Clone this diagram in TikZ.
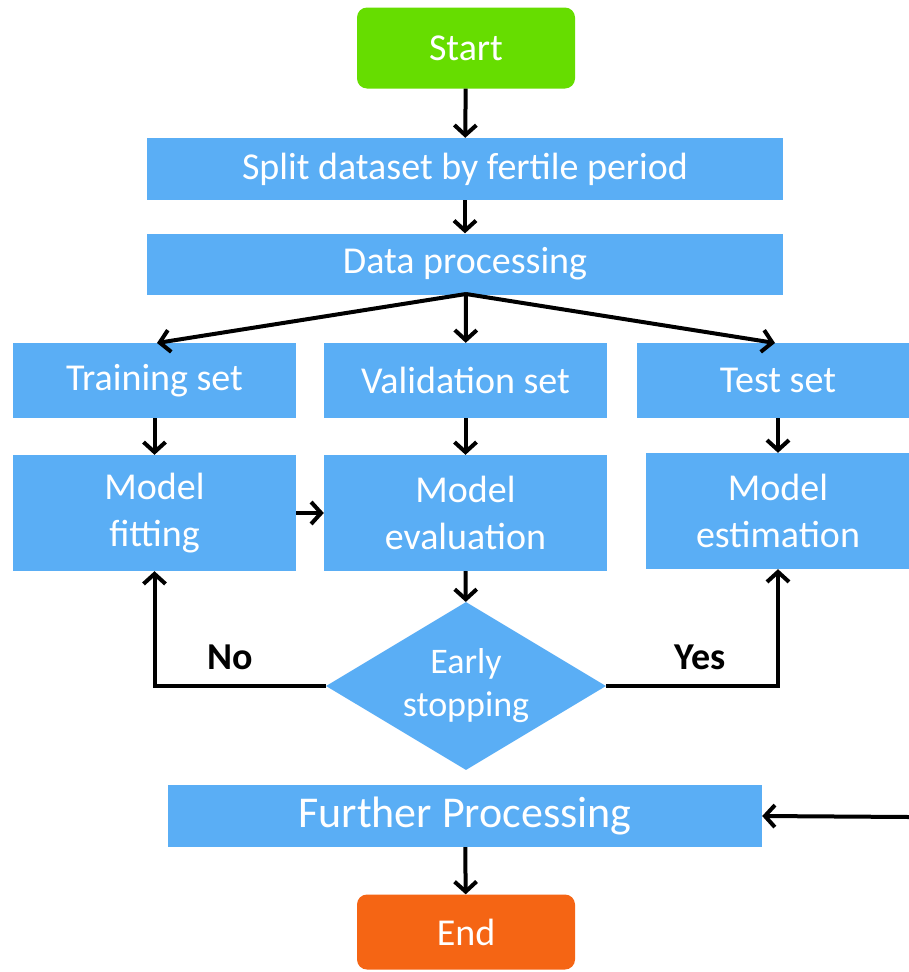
\documentclass[tikz,border=0pt]{standalone}
\usepackage{fontspec}
\setmainfont{Carlito}
\usetikzlibrary{arrows.meta,shapes.geometric}
\definecolor{boxblue}{RGB}{90,174,245}
\definecolor{startgreen}{RGB}{102,221,0}
\definecolor{endorange}{RGB}{245,101,20}
\tikzset{
  box/.style={fill=boxblue, text=white, inner sep=0pt, align=center,
    font=\fontsize{38}{47}\selectfont},
  term/.style={box, rounded corners=10pt},
  decide/.style={diamond, fill=boxblue, text=white, inner sep=0pt, align=center,
    aspect=1.667, font=\fontsize{36}{43}\selectfont},
  flow/.style={line width=4pt, -{Straight Barb[length=10pt,width=22pt,line width=4pt]}},
  lbl/.style={font=\bfseries\fontsize{38}{44}\selectfont, text=black}
}
\begin{document}
\begin{tikzpicture}[x=1pt,y=-1pt]
\useasboundingbox (0,0) rectangle (909,972);
\clip (0,0) rectangle (909,972);
\fill[white] (0,0) rectangle (909,972);

% main column
\node[term, fill=startgreen, minimum width=218pt, minimum height=81pt] (start) at (466,48) {Start};
\node[box, minimum width=636pt, minimum height=62pt] (split) at (465,169) {Split dataset by fertile period};
\node[box, minimum width=636pt, minimum height=61pt] (data) at (465,264) {Data processing};

% three branches
\node[box, minimum width=283pt, minimum height=75pt] (train) at (154.5,380.5) {Training set};
\node[box, minimum width=283pt, minimum height=75pt] (valid) at (465.5,380.5) {Validation set};
\node[box, minimum width=282pt, minimum height=75pt] (test) at (778,380.5) {Test set};

\node[box, minimum width=283pt, minimum height=116pt] (fit) at (154.5,513) {Model\\fitting};
\node[box, minimum width=283pt, minimum height=116pt] (eval) at (465.5,513) {Model\\evaluation};
\node[box, minimum width=264pt, minimum height=116pt] (est) at (778,511) {Model\\estimation};

\node[decide, minimum width=280pt, minimum height=168pt] (stop) at (466,686) {Early\\stopping};

\node[box, minimum width=594pt, minimum height=62pt, font=\fontsize{44}{50}\selectfont] (further) at (465,816) {Further Processing};
\node[term, fill=endorange, minimum width=218pt, minimum height=75pt] (end) at (466,932) {End};

\coordinate (fork) at (466,294);
\coordinate (incoming) at (909,817);

% connectors
\draw[flow] (start) -- (split);
\draw[flow] (split) -- (data);
\draw[flow] (fork) -- (157,343);
\draw[flow] (fork) -- (valid);
\draw[flow] (fork) -- (775,343);
\draw[flow] (train) -- (fit);
\draw[flow] (valid) -- (eval);
\draw[flow] (test) -- (est);
\draw[flow] (fit.east) -- (eval.west);
\draw[flow] (eval) -- (stop);
\draw[flow] (stop.west) -| (fit.south -| train.south);
\draw[flow] (stop.east) -| (est.south);
\draw[flow] (incoming) -- (further.east);
\draw[flow] (further) -- (end);

\node[lbl] (no) at (230,657) {No};
\node[lbl] (yes) at (700,657) {Yes};
\end{tikzpicture}
\end{document}
